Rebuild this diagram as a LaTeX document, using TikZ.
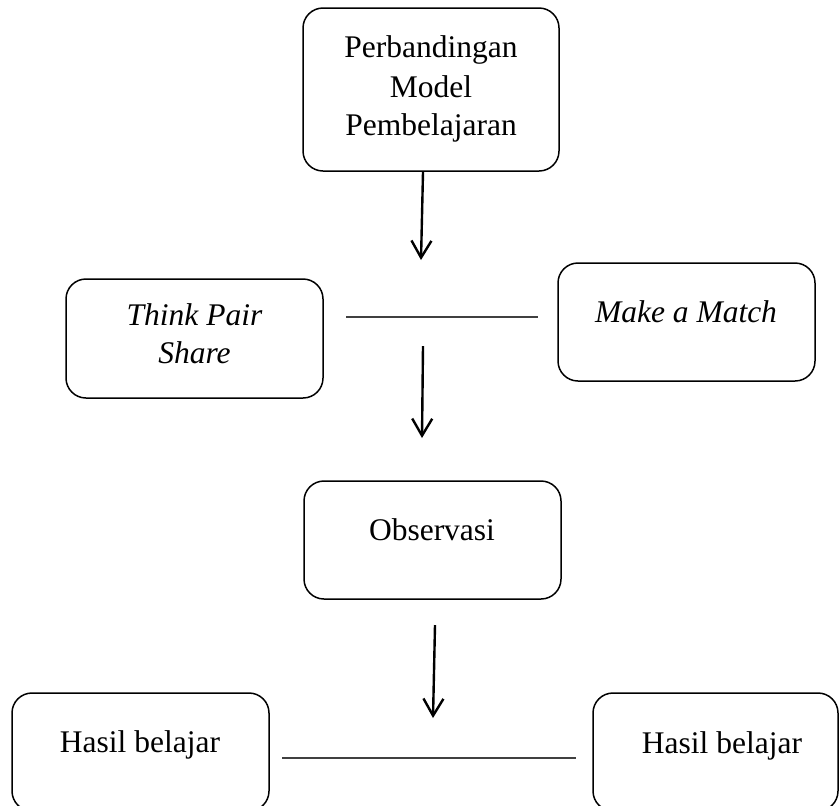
\documentclass[tikz,border=0pt]{standalone}
\usepackage{fontspec}
\setmainfont{Liberation Serif}
\usetikzlibrary{arrows.meta}
\begin{document}
\begin{tikzpicture}[x=0.5pt,y=-0.5pt,
  box/.style={draw, line width=0.75pt, rounded corners=10pt, inner sep=0pt, minimum width=128.5pt, minimum height=59pt},
  txt/.style={anchor=base, inner sep=0pt, font=\fontsize{15.75}{19}\selectfont},
  arr/.style={line width=1.2pt, -{Straight Barb[length=8.5pt,width=10pt]}},
  link/.style={line width=0.75pt, draw=black!75}]
\useasboundingbox (0,0) rectangle (839,805);
\clip (0,0) rectangle (839,805);
% boxes
\node[box, minimum width=128pt, minimum height=81.5pt] (top) at (431,89.5) {};
\node[box, minimum height=59.5pt] (tps) at (194.5,338.5) {};
\node[box] (mam) at (686.5,322) {};
\node[box] (obs) at (432.5,540) {};
\node[box] (hl) at (140.5,752) {};
\node[box, minimum width=122.5pt] (hr) at (715.5,752) {};
% texts
\node[txt] (t1) at (431,57) {Perbandingan};
\node[txt] (t2) at (431,97) {Model};
\node[txt] (t3) at (431,135) {Pembelajaran};
\node[txt] (t4) at (194.5,325) {\itshape Think Pair};
\node[txt] (t5) at (194.5,363) {\itshape Share};
\node[txt] (t6) at (686,322) {\itshape Make a Match};
\node[txt] (t7) at (432,540) {Observasi};
\node[txt] (t8) at (140,752) {Hasil belajar};
\node[txt] (t9) at (722,753) {Hasil belajar};
% connector ends
\coordinate (a1s) at (423,172);
\coordinate (a1e) at (421,260);
\coordinate (a2s) at (423,346);
\coordinate (a2e) at (422,438);
\coordinate (a3s) at (435,625);
\coordinate (a3e) at (433,718);
\coordinate (l1a) at (346,317);
\coordinate (l1b) at (538,317);
\coordinate (l2a) at (282,758);
\coordinate (l2b) at (576,758);
% connectors
\draw[arr] (a1s) -- (a1e);
\draw[arr] (a2s) -- (a2e);
\draw[arr] (a3s) -- (a3e);
\draw[link] (l1a) -- (l1b);
\draw[link] (l2a) -- (l2b);
\end{tikzpicture}
\end{document}
